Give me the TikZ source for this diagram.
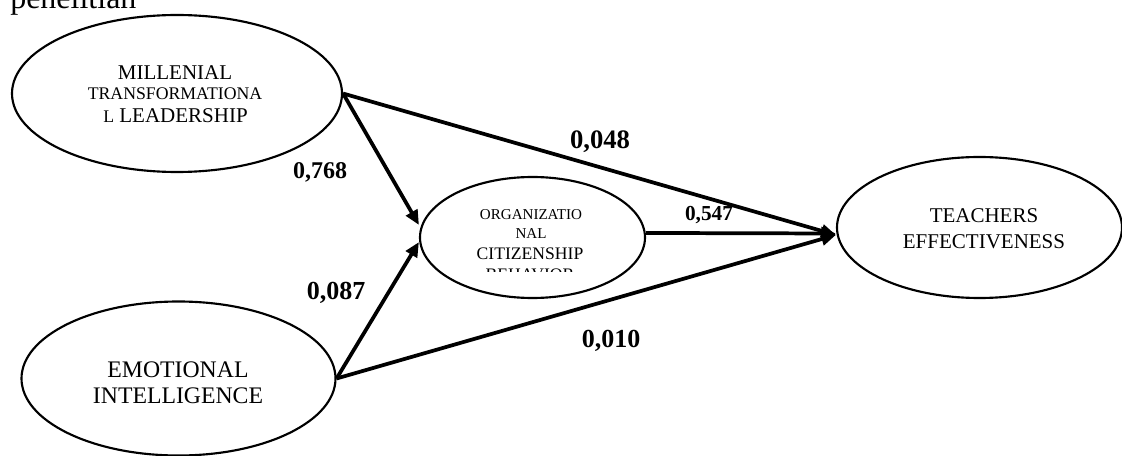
\documentclass[tikz,border=0pt]{standalone}
\usepackage{fontspec}
\setmainfont{Liberation Serif}
\usetikzlibrary{shapes.geometric,arrows.meta}
\begin{document}
\begin{tikzpicture}[x=0.75pt,y=-0.75pt,
  lat/.style={draw,ellipse,line width=1.6pt,inner sep=0pt},
  pathline/.style={line width=2.8pt,-{Triangle[length=11pt,width=9.5pt]}},
  coef/.style={font=\bfseries\fontsize{#1}{#1}\selectfont,inner sep=0pt},
  txt/.style={anchor=base,inner sep=0pt,font=\fontsize{#1}{#1}\selectfont}]
\useasboundingbox (0,0) rectangle (1122,456);
\clip (0,0) rectangle (1122,456);

\node[anchor=base west,inner sep=0pt,font=\fontsize{24}{24}\selectfont] (pen) at (10,9) {penelitian};

\node[lat,minimum width=247.5pt,minimum height=117.75pt] (MTL) at (177,93.5) {};
\node[lat,minimum width=168.75pt,minimum height=90.75pt] (OCB) at (532.5,237.5) {};
\node[lat,minimum width=235.5pt,minimum height=115.5pt] (EI) at (178.5,378.5) {};
\node[lat,minimum width=213.75pt,minimum height=105.75pt] (TE) at (979.5,227.5) {};

\node[txt=15.75] (mtl1) at (175,80) {MILLENIAL};
\node[txt=13.3] (mtl2) at (175,100) {TRANSFORMATIONA};
\node[txt=15.75] (mtl3) at (175.5,123) {{\fontsize{13.3}{13.3}\selectfont L} LEADERSHIP};

\node[txt=17.8] (ei1) at (178,377) {EMOTIONAL};
\node[txt=17.8] (ei2) at (178,403) {INTELLIGENCE};

\node[txt=15.75] (te1) at (984,223) {TEACHERS};
\node[txt=15.75] (te2) at (984,248) {EFFECTIVENESS};

\begin{scope}
\clip (440,195) rectangle (630,272);
\node[txt=11.3] (ocb1) at (531,220) {ORGANIZATIO};
\node[txt=11.3] (ocb2) at (531,239) {NAL};
\node[txt=13.2] (ocb3) at (530,260) {CITIZENSHIP};
\node[txt=13.2] (ocb4) at (530,281) {BEHAVIOR};
\end{scope}

\draw[pathline] (MTL.east) -- ([yshift=-5.6pt]TE.west);
\draw[pathline] (MTL.east) -- ([yshift=9.4pt]OCB.west);
\draw[pathline] (EI.east) -- ([yshift=-3.4pt]OCB.west);
\draw[pathline] (EI.east) -- ([yshift=-5.6pt]TE.west);
\draw[pathline] ([yshift=3.4pt]OCB.east) -- ([yshift=-4.5pt]TE.west);

\node[coef=18] (c1) at (320,172) {0,768};
\node[coef=20] (c2) at (600,142) {0,048};
\node[coef=16] (c3) at (709,215) {0,547};
\node[coef=19.5] (c4) at (336,293) {0,087};
\node[coef=19.5] (c5) at (611,341) {0,010};
\end{tikzpicture}
\end{document}
